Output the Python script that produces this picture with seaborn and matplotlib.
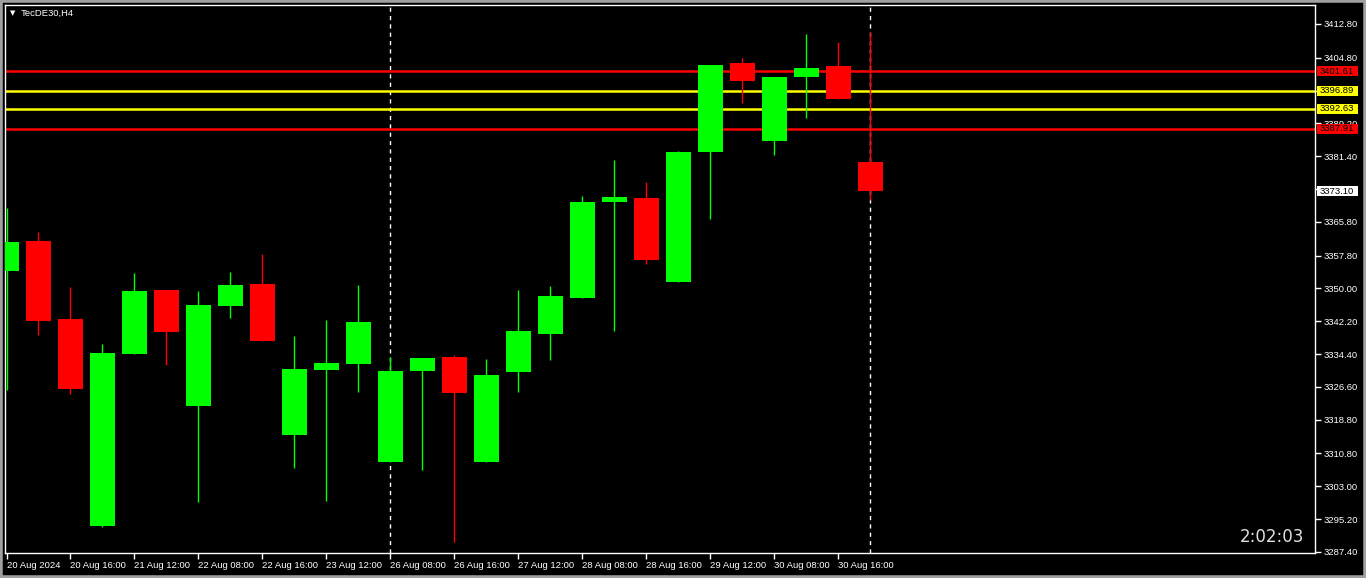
import numpy as np
import pandas as pd
import seaborn as sns
import matplotlib.pyplot as plt
from matplotlib.patches import Rectangle
from matplotlib.transforms import blended_transform_factory

# H4 candles, TecDE30
opens = [3354.14, 3361.26, 3342.73, 3293.57, 3334.43, 3349.63, 3322.08, 3345.83,
         3351.05, 3315.19, 3330.63, 3332.05, 3308.78, 3330.39, 3333.71, 3308.78,
         3330.15, 3339.18, 3347.73, 3370.53, 3371.48, 3351.53, 3382.40, 3403.54,
         3385.01, 3400.21, 3402.83, 3380.03]
highs = [3369.10, 3363.40, 3350.34, 3336.80, 3353.66, 3349.63, 3349.39, 3353.90,
         3358.18, 3338.69, 3342.50, 3350.81, 3333.71, 3333.48, 3334.19, 3333.24,
         3349.63, 3350.58, 3371.95, 3380.50, 3375.28, 3382.64, 3403.06, 3404.73,
         3400.21, 3410.43, 3408.53, 3410.90]
lows = [3325.87, 3338.94, 3324.92, 3293.40, 3334.43, 3331.81, 3299.28, 3342.98,
        3337.51, 3307.35, 3299.51, 3325.40, 3308.78, 3306.88, 3289.78, 3308.78,
        3325.40, 3332.99, 3347.73, 3339.89, 3355.80, 3351.53, 3366.49, 3394.04,
        3381.69, 3390.48, 3394.99, 3371.00]
closes = [3361.02, 3342.26, 3326.11, 3334.66, 3349.39, 3339.65, 3346.06, 3350.81,
          3337.51, 3330.86, 3332.29, 3342.03, 3330.39, 3333.48, 3325.16, 3329.44,
          3339.89, 3348.20, 3370.53, 3371.71, 3356.75, 3382.40, 3403.06, 3399.26,
          3400.21, 3402.35, 3394.99, 3373.10]

x_labels = ['20 Aug 2024', '20 Aug 16:00', '21 Aug 12:00', '22 Aug 08:00',
            '22 Aug 16:00', '23 Aug 12:00', '26 Aug 08:00', '26 Aug 16:00',
            '27 Aug 12:00', '28 Aug 08:00', '28 Aug 16:00', '29 Aug 12:00',
            '30 Aug 08:00', '30 Aug 16:00']

y_ticks = [3412.80, 3404.80, 3397.00, 3389.20, 3381.40, 3373.60, 3365.80, 3357.80,
           3350.00, 3342.20, 3334.40, 3326.60, 3318.80, 3310.80, 3303.00, 3295.20,
           3287.40]
# labels fully covered by the price boxes are left blank
y_hidden = [3397.00, 3373.60]

# horizontal levels (price, colour)
levels = [3401.61, 3396.89, 3392.63, 3387.91]
level_colors = ['#ff0000', '#ffff00', '#ffff00', '#ff0000']
separators = [12, 27]
timer = '2:02:03'

df = pd.DataFrame({'open': opens, 'high': highs, 'low': lows, 'close': closes})
df['idx'] = np.arange(len(df))
df['up'] = df['close'] >= df['open']

sns.set_theme(style='ticks')
plt.rcParams['font.family'] = ['Liberation Sans', 'DejaVu Sans']

fig = plt.figure(figsize=(13.66, 5.78), dpi=100, facecolor='black')
ax = fig.add_axes([5 / 1366, 25 / 578, 1310 / 1366, 548 / 578])
ax.set_facecolor('black')

green, red = '#00ff00', '#ff0000'
cols = np.where(df['up'], green, red)

# wicks
ax.vlines(df['idx'], df['low'], df['high'], colors=cols, linewidth=1.0, zorder=3)
# bodies
body_lo = df[['open', 'close']].min(axis=1)
body_h = (df['close'] - df['open']).abs()
ax.bar(df['idx'], body_h, bottom=body_lo, width=0.78, color=cols, linewidth=0, zorder=4)

for lv, c in zip(levels, level_colors):
    ax.axhline(lv, color=c, linewidth=1.8, zorder=2)

for s in separators:
    ax.axvline(s, color='white', linewidth=1.0, linestyle=(0, (3, 3)), zorder=1)

ax.set_xlim(-0.047, 40.9)
ax.set_ylim(3287.16, 3417.31)

ax.set_xticks(np.arange(0, len(df), 2))
ax.set_xticklabels(x_labels)
for lbl in ax.get_xticklabels():
    lbl.set_ha('left')
ax.yaxis.tick_right()
ax.set_yticks(y_ticks)
ax.set_yticklabels(['' if v in y_hidden else f'{v:.2f}' for v in y_ticks])

ax.tick_params(axis='both', colors='white', labelcolor='white', length=4, width=1,
               labelsize=6.8, pad=2, direction='out')
for sp in ax.spines.values():
    sp.set_visible(True)
    sp.set_color('white')
    sp.set_linewidth(1)

# price boxes on the right axis, drawn over the tick labels
tr = blended_transform_factory(ax.transAxes, ax.transData)
px_per_price = 548 / (3417.31 - 3287.16)
box_h = 10.5 / px_per_price
box_items = list(zip(levels, level_colors)) + [(closes[-1], '#ffffff')]
for lv, c in box_items:
    ax.add_patch(Rectangle((1.0015, lv - box_h / 2), 41 / 1310, box_h, transform=tr,
                           facecolor=c, edgecolor='none', clip_on=False, zorder=9))
    ax.text(1.0035, lv, f'{lv:.2f}', transform=tr, ha='left', va='center',
            fontsize=6.8, color='black', zorder=10, clip_on=False)

ax.text(0.992, 0.03, timer, transform=ax.transAxes, ha='right', va='center',
        fontsize=12, color='#e0e0e0', family=['DejaVu Sans'])

fig.text(10 / 1366, 1 - 13 / 578, '\u25bc', color='white', fontsize=5,
         va='center', ha='left', family=['DejaVu Sans'])
fig.text(21 / 1366, 1 - 13 / 578, 'TecDE30,H4', color='white', fontsize=6.8,
         va='center', ha='left')

fig.patches.append(Rectangle((0, 0), 1, 1, transform=fig.transFigure, fill=False,
                             edgecolor='#a0a0a0', linewidth=4, zorder=20))

fig.savefig('out.png', dpi=100, facecolor='black')
